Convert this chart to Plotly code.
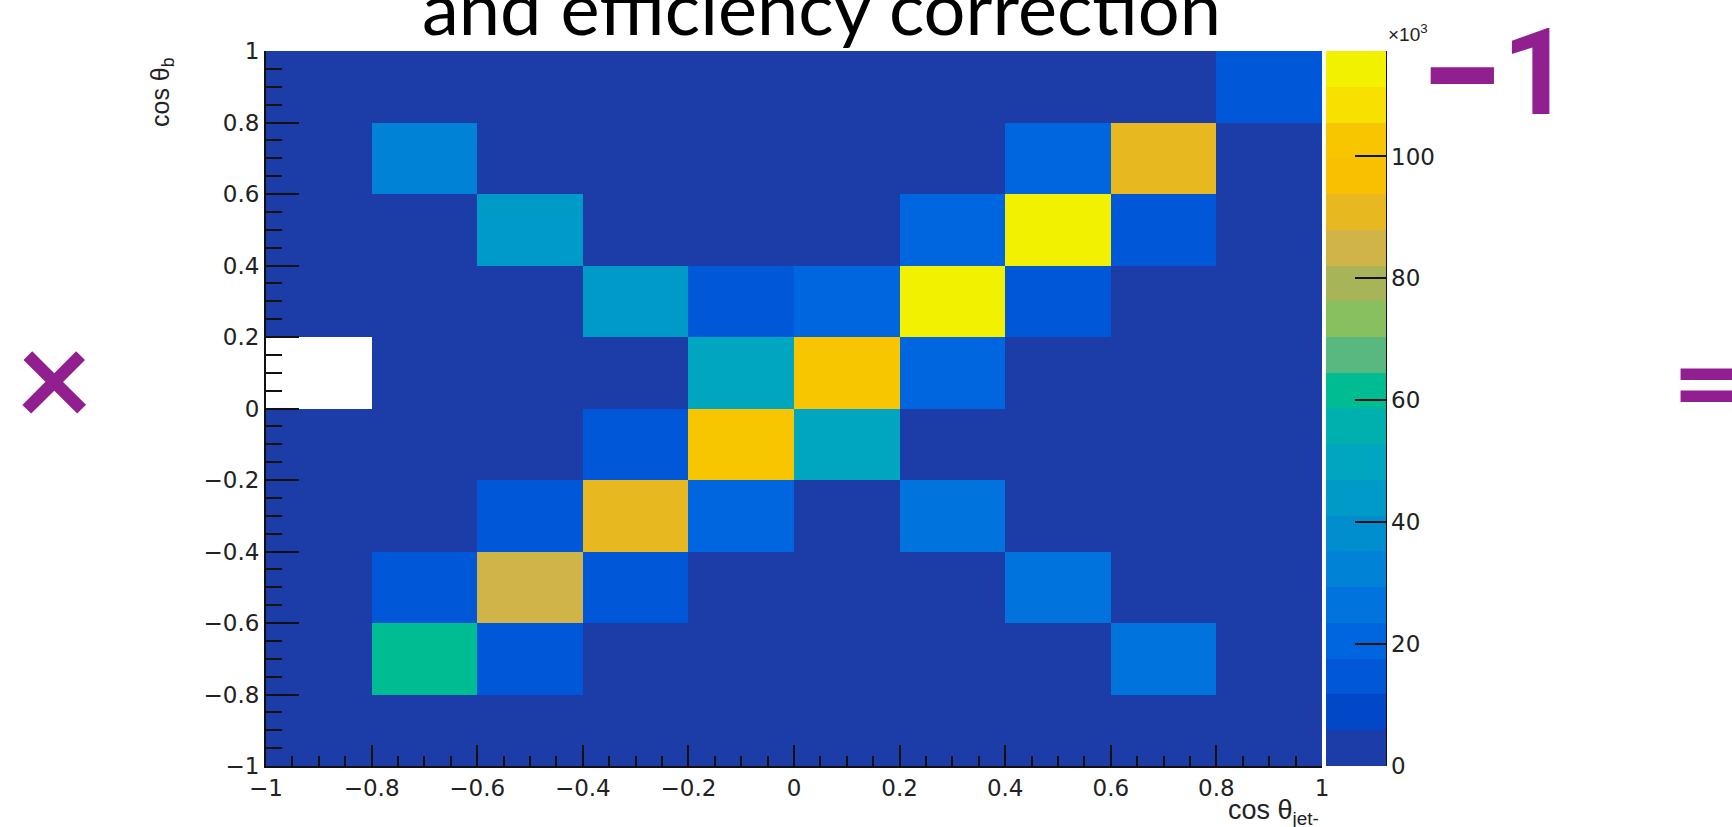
import plotly.graph_objects as go

# ---------------- data ----------------
x_centers = [-0.9, -0.7, -0.5, -0.3, -0.1, 0.1, 0.3, 0.5, 0.7, 0.9]
y_centers = [-0.9, -0.7, -0.5, -0.3, -0.1, 0.1, 0.3, 0.5, 0.7, 0.9]

row_m09 = [2100, 2600, 2300, 2000, 1800, 1900, 2200, 2500, 2400, 2000]
row_m07 = [2300, 61600, 14700, 2600, 2100, 1900, 2400, 2800, 26400, 2200]
row_m05 = [2000, 14700, 85000, 14500, 2700, 2300, 2600, 27000, 2900, 2100]
row_m03 = [2400, 2200, 14200, 91000, 20500, 2500, 26800, 2300, 2000, 2600]
row_m01 = [2500, 2100, 2300, 14600, 102600, 49900, 2700, 2200, 2400, 2000]
row_p01 = [None, 2300, 2000, 2600, 49500, 103000, 20800, 2500, 2100, 2300]
row_p03 = [2200, 2400, 2600, 44000, 14400, 20300, 117300, 14800, 2300, 2100]
row_p05 = [2000, 2500, 44500, 2300, 2700, 2400, 20600, 115000, 14000, 2200]
row_p07 = [2300, 32300, 2100, 2600, 2400, 2200, 2500, 20900, 90500, 2000]
row_p09 = [2100, 2300, 2500, 2000, 2400, 2600, 2200, 2300, 2500, 14500]

z_rows = [row_m09, row_m07, row_m05, row_m03, row_m01,
          row_p01, row_p03, row_p05, row_p07, row_p09]

z_min = 0
z_max = 117300

axis_tickvals = [-1, -0.8, -0.6, -0.4, -0.2, 0, 0.2, 0.4, 0.6, 0.8, 1]
axis_ticktext = ["\u22121", "\u22120.8", "\u22120.6", "\u22120.4", "\u22120.2",
                 "0", "0.2", "0.4", "0.6", "0.8", "1"]

cbar_tickvals = [0, 20000, 40000, 60000, 80000, 100000]
cbar_ticktext = ["0", "20", "40", "60", "80", "100"]

# 20 contour-level colours (ROOT-like bird palette, bottom to top)
band_colors = [
    "#1c3ca8", "#0048c8", "#0058d8", "#0066e0", "#0074dc",
    "#0082d6", "#008ece", "#009ac8", "#00a6c0", "#00b0ae",
    "#00bc92", "#58b880", "#88c060", "#a8b458", "#d0b448",
    "#e8b820", "#f8c000", "#f8c600", "#f8e000", "#f2f200",
]

title_text = "and efficiency correction"
xtitle_text = "cos \u03b8<sub>jet-</sub>"
ytitle_text = "cos \u03b8<sub>b</sub>"

# ---------------- layout geometry ----------------
W, H = 1732, 827
L, R, T, B = 266, 410, 51, 61
PW = W - L - R
PH = H - T - B


def px_x(p):
    return (p - L) / PW


def px_y(p):
    return 1 - (p - T) / PH


n = len(band_colors)
colorscale = []
for i, c in enumerate(band_colors):
    colorscale.append([i / n, c])
    colorscale.append([(i + 1) / n, c])

purple = "#921f8f"
tick_font = dict(family="DejaVu Sans, sans-serif", size=23, color="#222222")
title_font_family = "Liberation Sans, Arial, sans-serif"

fig = go.Figure(
    go.Heatmap(
        x=x_centers,
        y=y_centers,
        z=z_rows,
        zmin=z_min,
        zmax=z_max,
        colorscale=colorscale,
        hoverongaps=False,
        colorbar=dict(
            x=px_x(1326), xanchor="left", xpad=0,
            y=0.5, yanchor="middle", ypad=0,
            len=1, lenmode="fraction",
            thickness=60, thicknessmode="pixels",
            outlinewidth=0,
            tickmode="array", tickvals=cbar_tickvals, ticktext=cbar_ticktext,
            ticks="inside", ticklen=31, tickwidth=2, tickcolor="#111111",
            tickfont=tick_font,
        ),
    )
)

fig.update_xaxes(
    range=[-1, 1], tickmode="array", tickvals=axis_tickvals, ticktext=axis_ticktext,
    ticks="inside", ticklen=21, tickwidth=2, tickcolor="#111111",
    minor=dict(dtick=0.05, tick0=0, ticks="inside", ticklen=10, tickwidth=2, tickcolor="#111111"),
    showline=True, linecolor="#111111", linewidth=2, mirror=False,
    showgrid=False, zeroline=False, tickfont=tick_font,
)
fig.update_yaxes(
    range=[-1, 1], tickmode="array", tickvals=axis_tickvals, ticktext=axis_ticktext,
    ticks="inside", ticklen=33, tickwidth=2, tickcolor="#111111",
    minor=dict(dtick=0.05, tick0=0, ticks="inside", ticklen=16, tickwidth=2, tickcolor="#111111"),
    showline=True, linecolor="#111111", linewidth=2, mirror=False,
    showgrid=False, zeroline=False, tickfont=tick_font,
)

annotations = [
    dict(text=title_text, x=px_x(821), y=px_y(6), xanchor="center", yanchor="middle",
         font=dict(family="Lato, sans-serif", size=74, color="#000000")),
    dict(text="\u00d710<sup>3</sup>", x=px_x(1386), y=px_y(33), xanchor="left", yanchor="middle",
         font=dict(family=title_font_family, size=19, color="#222222")),
    dict(text=ytitle_text, textangle=-90, x=px_x(162), y=px_y(55), xanchor="center", yanchor="top",
         font=dict(family=title_font_family, size=25, color="#222222")),
    dict(text=xtitle_text, x=px_x(1321), y=px_y(793), xanchor="right", yanchor="top",
         font=dict(family=title_font_family, size=27, color="#222222")),
    dict(text="\u00d7", x=px_x(54), y=px_y(375), xanchor="center", yanchor="middle",
         font=dict(family="Lato, sans-serif", size=135, color=purple, weight="bold")),
    dict(text="=", x=px_x(1670), y=px_y(379), xanchor="left", yanchor="middle",
         font=dict(family="Lato, sans-serif", size=125, color=purple, weight="bold")),
    dict(text="\u2212", x=px_x(1461), y=px_y(77), xanchor="center", yanchor="middle",
         font=dict(family="Roboto, sans-serif", size=150, color=purple, weight="bold")),
    dict(text="1", x=px_x(1536), y=px_y(73), xanchor="center", yanchor="middle",
         font=dict(family="Roboto, sans-serif", size=121, color=purple, weight="bold")),
]
for a in annotations:
    a.update(xref="paper", yref="paper", showarrow=False)

fig.update_layout(
    width=W, height=H,
    margin=dict(l=L, r=R, t=T, b=B, pad=0),
    paper_bgcolor="white", plot_bgcolor="white",
    annotations=annotations,
    shapes=[dict(type="line", xref="paper", yref="paper",
                 x0=px_x(1386), x1=px_x(1386), y0=0, y1=1,
                 line=dict(color="#111111", width=2))],
    showlegend=False,
)

fig.write_html("out.html")
